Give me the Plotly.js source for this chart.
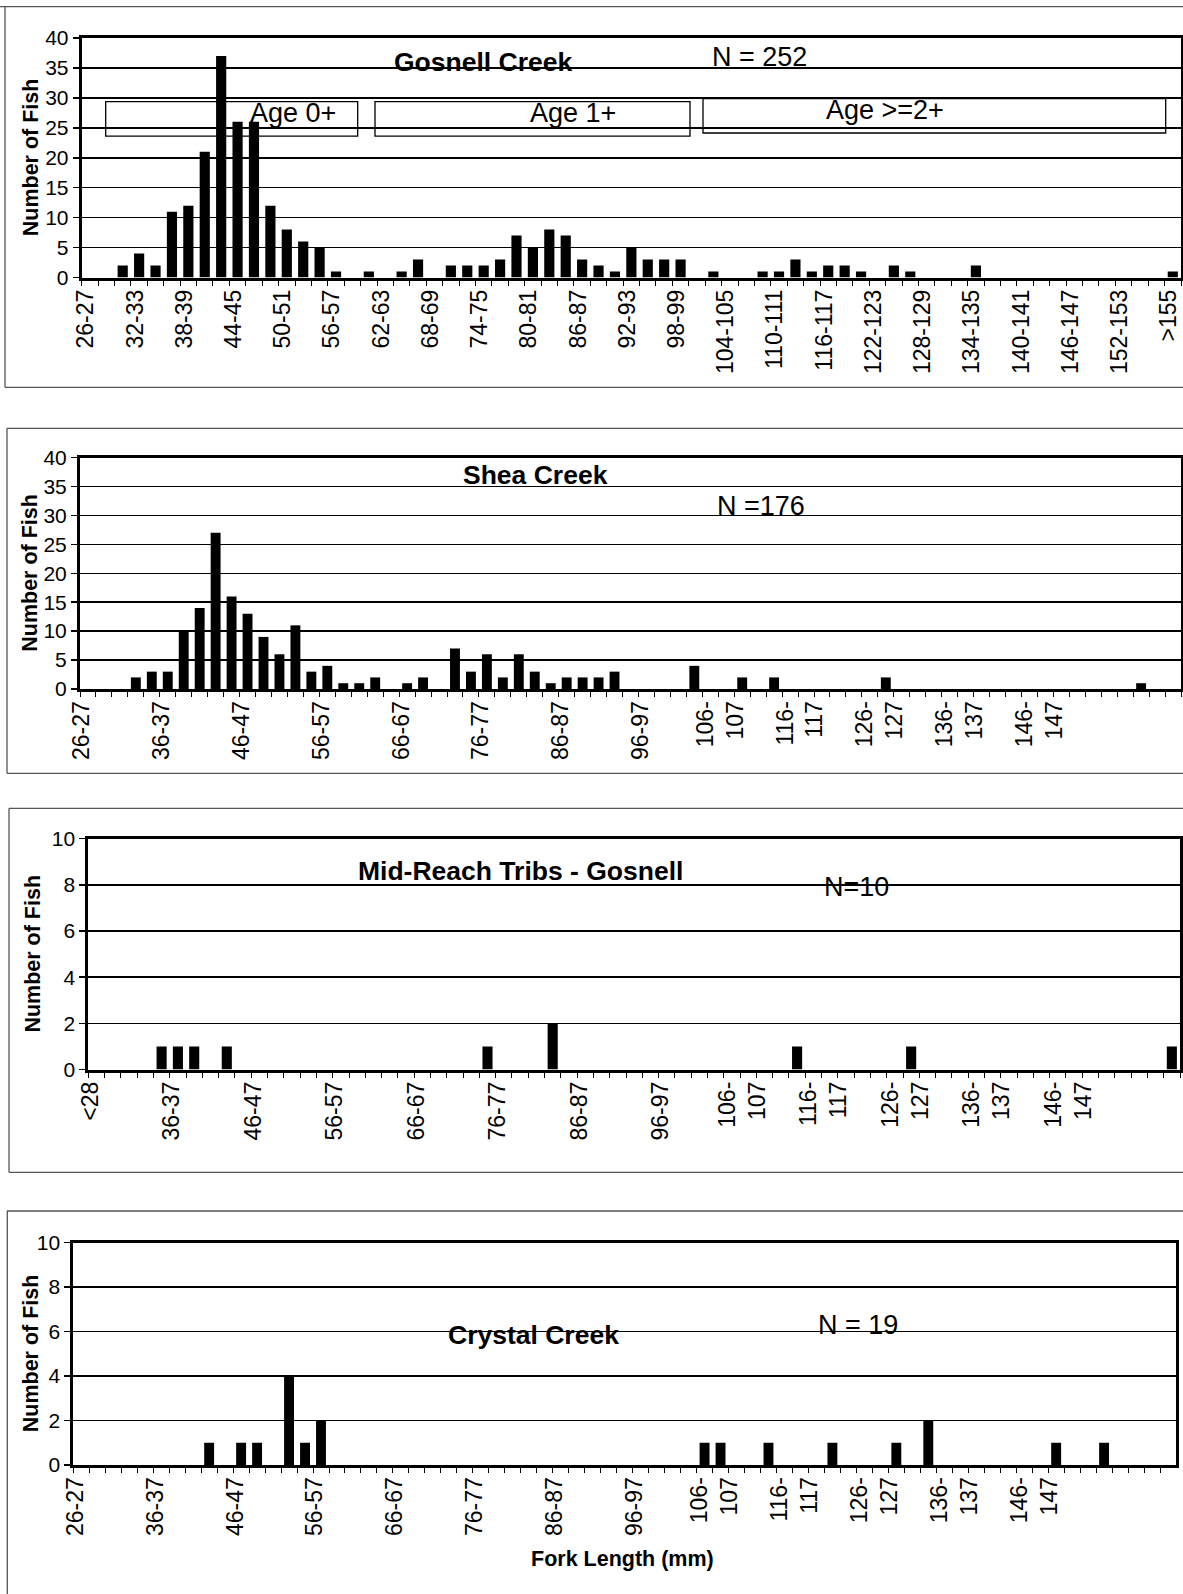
<!DOCTYPE html>
<html>
<head>
<meta charset="utf-8">
<script src="https://cdn.plot.ly/plotly-3.0.1.min.js"></script>
<style>html,body{margin:0;padding:0;background:#fff;}</style>
</head>
<body>
<div id="chart" style="width:1183px;height:1594px;"></div>
<script>
// ---------------- DATA ----------------
const gosnellCategories = ["26-27","28-29","30-31","32-33","34-35","36-37","38-39","40-41","42-43","44-45","46-47","48-49","50-51","52-53","54-55","56-57","58-59","60-61","62-63","64-65","66-67","68-69","70-71","72-73","74-75","76-77","78-79","80-81","82-83","84-85","86-87","88-89","90-91","92-93","94-95","96-97","98-99","100-101","102-103","104-105","106-107","108-109","110-111","112-113","114-115","116-117","118-119","120-121","122-123","124-125","126-127","128-129","130-131","132-133","134-135","136-137","138-139","140-141","142-143","144-145","146-147","148-149","150-151","152-153","154-155","155-156",">155"];
const gosnellCounts = [0,0,2,4,2,11,12,21,37,26, 26,12,8,6,5,1,0,1,0,1, 3,0,2,2,2,3,7,5,8,7, 3,2,1,5,3,3,3,0,1,0, 0,1,1,3,1,2,2,1,0,2, 1,0,0,0,2,0,0,0,0,0, 0,0,0,0,0,0,1];
const gosnellTickLabels = ["26-27","32-33","38-39","44-45","50-51","56-57","62-63","68-69","74-75","80-81","86-87","92-93","98-99","104-105","110-111","116-117","122-123","128-129","134-135","140-141","146-147","152-153",">155"];

const sheaCategories = ["26-27","28-29","30-31","32-33","34-35","36-37","38-39","40-41","42-43","44-45","46-47","48-49","50-51","52-53","54-55","56-57","58-59","60-61","62-63","64-65","66-67","68-69","70-71","72-73","74-75","76-77","78-79","80-81","82-83","84-85","86-87","88-89","90-91","92-93","94-95","96-97","98-99","100-101","102-103","104-105","106-107","108-109","110-111","112-113","114-115","116-117","118-119","120-121","122-123","124-125","126-127","128-129","130-131","132-133","134-135","136-137","138-139","140-141","142-143","144-145","146-147","148-149","150-151","152-153","154-155","156-157","158-159","160-161","162-163"];
const sheaCounts = [0,0,0,2,3,3,10,14,27,16, 13,9,6,11,3,4,1,1,2,0, 1,2,0,7,3,6,2,6,3,1, 2,2,2,3,0,0,0,0,4,0, 0,2,0,2,0,0,0,0,0,0, 2,0,0,0,0,0,0,0,0,0, 0,0,0,0,0,0,1,0,0];
const sheaTickLabels = ["26-27","36-37","46-47","56-57","66-67","76-77","86-87","96-97","106-107","116-117","126-127","136-137","146-147"];

const midReachCategories = ["<28","28-29","30-31","32-33","34-35","36-37","38-39","40-41","42-43","44-45","46-47","48-49","50-51","52-53","54-55","56-57","58-59","60-61","62-63","64-65","66-67","68-69","70-71","72-73","74-75","76-77","78-79","80-81","82-83","84-85","86-87","88-89","90-91","92-93","94-95","96-97","98-99","100-101","102-103","104-105","106-107","108-109","110-111","112-113","114-115","116-117","118-119","120-121","122-123","124-125","126-127","128-129","130-131","132-133","134-135","136-137","138-139","140-141","142-143","144-145","146-147","148-149","150-151","152-153","154-155","156-157","158-159"];
const midReachCounts = [0,0,0,0,1,1,1,0,1,0, 0,0,0,0,0,0,0,0,0,0, 0,0,0,0,1,0,0,0,2,0, 0,0,0,0,0,0,0,0,0,0, 0,0,0,1,0,0,0,0,0,0, 1,0,0,0,0,0,0,0,0,0, 0,0,0,0,0,0,1];
const midReachTickLabels = ["<28","36-37","46-47","56-57","66-67","76-77","86-87","96-97","106-107","116-117","126-127","136-137","146-147"];

const crystalCategories = sheaCategories.slice();
const crystalCounts = [0,0,0,0,0,0,0,0,1,0, 1,1,0,4,1,2,0,0,0,0, 0,0,0,0,0,0,0,0,0,0, 0,0,0,0,0,0,0,0,0,1, 1,0,0,1,0,0,0,1,0,0, 0,1,0,2,0,0,0,0,0,0, 0,1,0,0,1,0,0,0,0];
const crystalTickLabels = ["26-27","36-37","46-47","56-57","66-67","76-77","86-87","96-97","106-107","116-117","126-127","136-137","146-147"];

const panelTitles = ["Gosnell Creek","Shea Creek","Mid-Reach Tribs - Gosnell","Crystal Creek"];
const sampleSizes = ["N = 252","N =176","N=10","N = 19"];
const ageClassLabels = ["Age 0+","Age 1+","Age >=2+"];
const yAxisTitle = "Number of Fish";
const xAxisTitle = "Fork Length (mm)";

// ---------------- LAYOUT ----------------
const W = 1183, H = 1594;
const px = x => x / W;
const py = y => 1 - y / H;
const FONT = "Liberation Sans, Arial, Helvetica, sans-serif";
const TITLE_SIZE = 26.5, NOTE_SIZE = 27, TICK_X = 23, TICK_Y = 21, AXTITLE = 21.5;

const panels = [
  {cats: gosnellCategories, counts: gosnellCounts, labels: gosnellTickLabels, ymax: 40, dtick: 5, box: [81.7, 1181, 38, 277.5], twoLine: false, shift: -4},
  {cats: sheaCategories, counts: sheaCounts, labels: sheaTickLabels, ymax: 40, dtick: 5, box: [80, 1181, 457.5, 689], twoLine: true, shift: -6},
  {cats: midReachCategories, counts: midReachCounts, labels: midReachTickLabels, ymax: 10, dtick: 2, box: [88.3, 1180, 838.7, 1069.5], twoLine: true, shift: -6},
  {cats: crystalCategories, counts: crystalCounts, labels: crystalTickLabels, ymax: 10, dtick: 2, box: [73.3, 1176, 1242.5, 1465], twoLine: true, shift: -6}
];

function fmtLabel(s, twoLine) {
  if (!twoLine) return s;
  const parts = s.split("-");
  if (parts.length === 2 && parts[0].length >= 3) return parts[0] + "-<br>" + parts[1];
  return s;
}

const traces = [];
const layout = {
  width: W, height: H, autosize: false,
  margin: {l: 0, r: 0, t: 0, b: 0, pad: 0},
  paper_bgcolor: "#fff", plot_bgcolor: "#fff",
  showlegend: false, bargap: 0.38,
  font: {family: FONT, color: "#000", size: 20},
  annotations: [], shapes: []
};

panels.forEach((p, i) => {
  const s = i === 0 ? "" : String(i + 1);
  const [L, R, T, B] = p.box;
  traces.push({
    type: "bar", x: p.cats, y: p.counts,
    xaxis: "x" + s, yaxis: "y" + s,
    marker: {color: "#000", line: {width: 0}},
    hoverinfo: "x+y"
  });
  layout["xaxis" + s] = {
    domain: [px(L), px(R)], anchor: "y" + s,
    type: "category", categoryorder: "array", categoryarray: p.cats,
    range: [-0.5, p.cats.length - 0.5],
    tickmode: "array", tickvals: p.cats,
    ticktext: p.cats.map(c => p.labels.includes(c) ? fmtLabel(c, p.twoLine) : ""),
    tickangle: -90, ticks: "outside", tickson: "boundaries",
    ticklen: 5, tickwidth: 1, tickcolor: "#000",
    ticklabelshift: p.shift,
    showline: true, linecolor: "#000", linewidth: 3, mirror: true,
    showgrid: false, zeroline: false,
    tickfont: {family: FONT, size: TICK_X, color: "#000"},
    fixedrange: true
  };
  layout["yaxis" + s] = {
    domain: [py(B), py(T)], anchor: "x" + s,
    range: [0, p.ymax], tickmode: "linear", tick0: 0, dtick: p.dtick,
    ticks: "outside", ticklen: 6, tickwidth: 1.5, tickcolor: "#000",
    showline: true, linecolor: "#000", linewidth: 3, mirror: true,
    showgrid: true, gridcolor: "#000", gridwidth: 1.5, zeroline: false,
    tickfont: {family: FONT, size: TICK_Y, color: "#000"},
    fixedrange: true
  };
});

function ann(text, x, y, size, bold, angle) {
  layout.annotations.push({
    text: text, xref: "paper", yref: "paper", x: px(x), y: py(y),
    xanchor: "center", yanchor: "middle", showarrow: false,
    textangle: angle || 0,
    font: {family: FONT, size: size, color: "#000", weight: bold ? "bold" : "normal"}
  });
}

// panel titles and sample sizes
ann(panelTitles[0], 482.7, 62, TITLE_SIZE, true);
ann(sampleSizes[0], 759, 57, NOTE_SIZE, false);
ann(panelTitles[1], 535.6, 474.6, TITLE_SIZE, true);
ann(sampleSizes[1], 761, 506, NOTE_SIZE, false);
ann(panelTitles[2], 520.3, 871, TITLE_SIZE, true);
ann(sampleSizes[2], 856.7, 887, NOTE_SIZE, false);
ann(panelTitles[3], 533.6, 1335.4, TITLE_SIZE, true);
ann(sampleSizes[3], 857.8, 1325.3, NOTE_SIZE, false);

// age class labels + boxes
ann(ageClassLabels[0], 292.7, 112.8, NOTE_SIZE, false);
ann(ageClassLabels[1], 573, 112.8, NOTE_SIZE, false);
ann(ageClassLabels[2], 885, 110, NOTE_SIZE, false);
[[105.7, 357.7, 101.6, 136.2], [375, 690, 101.6, 136.2], [703, 1165.7, 98.6, 133]].forEach(b => {
  layout.shapes.push({type: "rect", xref: "paper", yref: "paper",
    x0: px(b[0]), x1: px(b[1]), y0: py(b[3]), y1: py(b[2]),
    line: {color: "#000", width: 1.3}, fillcolor: "rgba(0,0,0,0)"});
});

// axis titles
ann(yAxisTitle, 30.5, (38 + 277.5) / 2, AXTITLE, true, -90);
ann(yAxisTitle, 30.5, (457.5 + 689) / 2, AXTITLE, true, -90);
ann(yAxisTitle, 33.5, (838.7 + 1069.5) / 2, AXTITLE, true, -90);
ann(yAxisTitle, 30.5, (1242.5 + 1465) / 2, AXTITLE, true, -90);
ann(xAxisTitle, 622, 1559, AXTITLE, true);

// outer panel frames
function line(x0, y0, x1, y1) {
  layout.shapes.push({type: "line", xref: "paper", yref: "paper",
    x0: px(x0), y0: py(y0), x1: px(x1), y1: py(y1),
    line: {color: "#555", width: 1.3}});
}
line(0, 6.7, 1183, 6.7); line(5, 6.7, 5, 387.3); line(5, 387.3, 1183, 387.3);
line(7, 428.3, 1183, 428.3); line(7, 428.3, 7, 773.3); line(7, 773.3, 1183, 773.3);
line(9, 808.3, 1183, 808.3); line(9, 808.3, 9, 1172.3); line(9, 1172.3, 1183, 1172.3);
line(7, 1211, 1183, 1211); line(7.3, 1211, 7.3, 1594);

Plotly.newPlot("chart", traces, layout, {displayModeBar: false, staticPlot: true});
</script>
</body>
</html>
